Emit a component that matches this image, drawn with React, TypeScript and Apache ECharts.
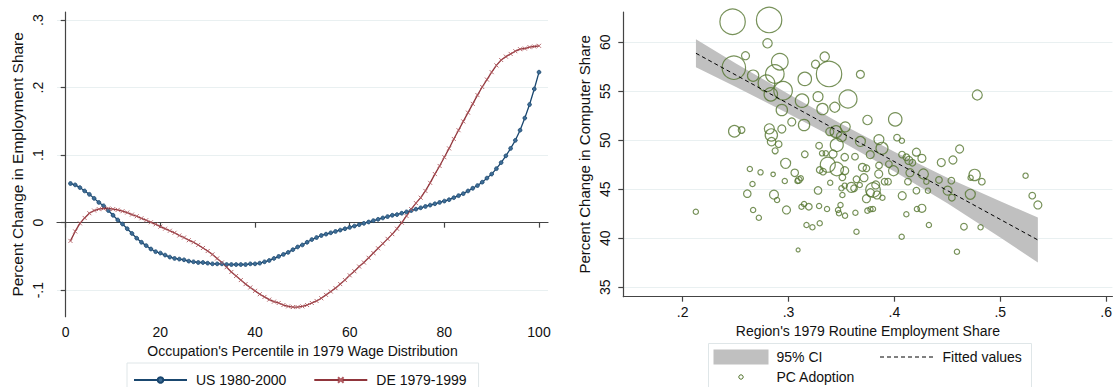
import React, { useEffect, useRef } from "react";
import * as echarts from "echarts";

// ---------- Left panel: smoothed employment-share changes by wage percentile ----------
const percentiles = Array.from({ length: 100 }, (_, i) => i + 1);

const usShare = [
  0.058, 0.056, 0.052, 0.047, 0.042, 0.036, 0.030, 0.025, 0.018, 0.011,
  0.004, -0.002, -0.009, -0.016, -0.023, -0.029, -0.034, -0.039, -0.043, -0.045,
  -0.048, -0.051, -0.053, -0.054, -0.055, -0.057, -0.058, -0.059, -0.059, -0.060,
  -0.061, -0.061, -0.061, -0.062, -0.062, -0.062, -0.062, -0.062, -0.061, -0.061,
  -0.060, -0.058, -0.056, -0.053, -0.050, -0.047, -0.044, -0.040, -0.036, -0.033,
  -0.029, -0.025, -0.022, -0.019, -0.017, -0.015, -0.013, -0.011, -0.009, -0.007,
  -0.005, -0.003, -0.001, 0.001, 0.003, 0.005, 0.007, 0.009, 0.011, 0.012,
  0.014, 0.016, 0.018, 0.020, 0.022, 0.024, 0.026, 0.028, 0.030, 0.032,
  0.034, 0.037, 0.040, 0.043, 0.047, 0.051, 0.055, 0.060, 0.066, 0.072,
  0.080, 0.089, 0.099, 0.110, 0.122, 0.137, 0.155, 0.175, 0.198, 0.223,
];

const deShare = [
  -0.027, -0.013, -0.001, 0.007, 0.014, 0.018, 0.020, 0.021, 0.021, 0.020,
  0.019, 0.017, 0.015, 0.012, 0.0095, 0.0065, 0.0036, 0.0006, -0.0024, -0.0059,
  -0.0089, -0.012, -0.015, -0.019, -0.022, -0.026, -0.029, -0.033, -0.0375, -0.042,
  -0.047, -0.053, -0.059, -0.066, -0.073, -0.079, -0.085, -0.091, -0.096, -0.101,
  -0.106, -0.110, -0.114, -0.117, -0.119, -0.122, -0.124, -0.125, -0.125, -0.124,
  -0.122, -0.119, -0.116, -0.112, -0.107, -0.102, -0.097, -0.091, -0.085, -0.078,
  -0.072, -0.065, -0.059, -0.052, -0.045, -0.038, -0.031, -0.024, -0.017, -0.009,
  0.000, 0.010, 0.020, 0.029, 0.037, 0.047, 0.059, 0.072, 0.084, 0.097,
  0.110, 0.124, 0.137, 0.150, 0.163, 0.176, 0.189, 0.201, 0.212, 0.223,
  0.233, 0.241, 0.246, 0.250, 0.254, 0.257, 0.258, 0.260, 0.261, 0.262,
];

const leftXTicks = [0, 20, 40, 60, 80, 100];
const leftYTicks = [-0.1, 0, 0.1, 0.2, 0.3];

// ---------- Right panel: regional PC adoption vs routine employment share ----------
const routineShare = [
  0.2472, 0.2817, 0.2802, 0.2594, 0.2484, 0.2666, 0.2918, 0.2871, 0.2792, 0.2949,
  0.2833, 0.3154, 0.3255, 0.3342, 0.3383, 0.3279, 0.3128, 0.3679, 0.3562, 0.4783,
  0.3437, 0.2937, 0.3321, 0.3147, 0.3031, 0.2937, 0.2489, 0.2557, 0.2819, 0.2838,
  0.2840, 0.2907, 0.2874, 0.3390, 0.3449, 0.3456, 0.3289, 0.3317, 0.3352, 0.3154,
  0.3371, 0.3456, 0.2973, 0.2635, 0.2736, 0.2855, 0.3059, 0.3116, 0.3085, 0.2965,
  0.2660, 0.3279, 0.3394, 0.2611, 0.2863,
  0.3536, 0.3500, 0.3421, 0.3531, 0.3628, 0.3679, 0.3746, 0.4008, 0.4025, 0.4071,
  0.3854, 0.3883, 0.3772, 0.3855, 0.3948, 0.3992, 0.4072, 0.4113, 0.4137, 0.4208,
  0.4260, 0.4170, 0.4147, 0.4274, 0.4443, 0.4553, 0.4616, 0.4421, 0.4538, 0.4503,
  0.4543, 0.4302, 0.4208, 0.4317, 0.4128, 0.4074, 0.3940, 0.3908, 0.3852, 0.3824,
  0.3798, 0.3836, 0.3887, 0.3736, 0.3774, 0.3713, 0.3698, 0.3736, 0.3642, 0.3673,
  0.3619, 0.3594, 0.3531, 0.3509, 0.3531, 0.3500, 0.3509, 0.3295, 0.3326, 0.3097,
  0.2892, 0.4758, 0.4720, 0.4826, 0.4717, 0.5239, 0.5302,
  0.3289, 0.3364, 0.3192, 0.3147, 0.3123, 0.3170, 0.3226, 0.3295, 0.3091, 0.2981,
  0.2666, 0.2720, 0.2125, 0.3632, 0.3642, 0.3745, 0.3774, 0.3798, 0.3491, 0.3468,
  0.3477, 0.3534, 0.4069, 0.4113, 0.4213, 0.4260, 0.4326, 0.4591, 0.5355, 0.4657,
  0.4814,
];

const computerChange = [
  62.10, 62.28, 59.90, 58.63, 57.41, 56.59, 58.02, 56.77, 55.82, 55.06,
  54.69, 56.26, 57.76, 58.53, 56.77, 54.45, 54.04, 56.73, 54.21, 54.62,
  53.37, 53.09, 53.19, 51.56, 51.87, 51.15, 50.92, 51.05, 51.17, 50.54,
  49.86, 49.60, 48.93, 50.88, 50.88, 49.52, 49.45, 48.67, 48.67, 48.57,
  47.51, 47.07, 47.65, 47.07, 46.73, 46.53, 46.68, 46.12, 45.85, 45.85,
  45.54, 44.88, 45.67, 44.55, 44.45,
  51.37, 50.37, 48.60, 48.28, 48.33, 49.88, 52.07, 52.14, 50.27, 49.95,
  50.07, 49.18, 48.54, 47.43, 47.57, 46.89, 48.54, 48.27, 47.94, 48.79,
  48.16, 47.71, 46.69, 46.56, 47.73, 47.99, 49.11, 45.95, 45.88, 44.86,
  44.14, 45.78, 44.86, 44.86, 45.78, 44.34, 45.78, 45.78, 46.56, 45.44,
  44.93, 44.42, 44.14, 44.04, 44.65, 46.18, 47.24, 47.14, 46.02, 45.44,
  45.10, 45.20, 46.90, 46.22, 45.37, 45.10, 44.42, 46.97, 46.80, 45.95,
  43.91, 46.46, 46.18, 45.78, 44.49, 46.39, 44.35,
  43.30, 42.99, 43.22, 43.50, 43.22, 41.36, 41.12, 41.53, 38.81, 42.89,
  42.89, 42.10, 42.71, 42.61, 40.67, 42.82, 42.96, 42.99, 43.40, 42.89,
  42.55, 42.31, 40.16, 42.45, 42.99, 43.06, 41.36, 38.63, 43.40, 41.18,
  41.12,
];

const pcWeight = [
  161, 161, 22, 16, 137, 32, 69, 86, 69, 86,
  45, 45, 16, 22, 161, 25, 45, 16, 81, 25,
  25, 32, 32, 32, 16, 16, 34, 11, 25, 38,
  18, 11, 9, 16, 36, 42, 11, 7, 7, 11,
  56, 45, 25, 7, 7, 5, 14, 7, 7, 7,
  7, 14, 7, 14, 20,
  25, 25, 16, 14, 11, 25, 22, 45, 11, 7,
  25, 36, 16, 11, 11, 25, 11, 11, 16, 16,
  16, 11, 16, 25, 16, 16, 16, 11, 11, 20,
  11, 7, 11, 7, 11, 16, 11, 11, 16, 16,
  53, 16, 7, 16, 16, 16, 16, 11, 11, 7,
  11, 25, 16, 11, 7, 7, 7, 11, 11, 11,
  7, 32, 7, 11, 25, 7, 11,
  7, 7, 11, 7, 7, 7, 7, 7, 4, 16,
  7, 7, 7, 7, 7, 7, 7, 7, 7, 7,
  7, 7, 7, 7, 7, 16, 7, 7, 16, 11,
  7,
];

const fitX = [0.2126, 0.5355];
const fitY = [58.88, 39.83];

const ciX = [0.2126, 0.25, 0.3, 0.35, 0.4, 0.45, 0.5, 0.5355];
const ciHigh = [60.32, 57.87, 54.72, 51.67, 48.82, 46.17, 43.77, 42.13];
const ciLow = [57.44, 55.47, 52.72, 49.87, 46.82, 43.57, 40.07, 37.53];

const rightXTicks = [0.2, 0.3, 0.4, 0.5, 0.6];
const rightYTicks = [35, 40, 45, 50, 55, 60];

const FONT = "'Liberation Sans', Arial, sans-serif";
const TXT = "#111";
const AXIS = "#444";
const GRIDC = "#e9f0f1";
const US_C = "#1a476f";
const DE_C = "#90353b";
const GREEN = "#55752f";
const CI_C = "#c0c0c0";

const stataNum = (v: number) => {
  const s = String(Math.round(v * 1000) / 1000);
  return s.replace(/^(-?)0\./, "$1.");
};

function valueAxis(opts: any) {
  const { ticks, min, max, name, gridIndex, vertical, nameGap, labelMargin, nameSize } = opts;
  return {
    type: "value",
    gridIndex,
    min,
    max,
    name,
    nameLocation: "middle",
    nameGap,
    nameTextStyle: { fontFamily: FONT, fontSize: nameSize, color: TXT },
    axisLine: { show: true, lineStyle: { color: AXIS, width: 1.2 } },
    axisTick: {
      show: true,
      length: 5,
      inside: false,
      customValues: ticks,
      lineStyle: { color: AXIS, width: 1.2 },
    },
    axisLabel: {
      show: true,
      customValues: ticks,
      formatter: stataNum,
      fontFamily: FONT,
      fontSize: 14,
      color: TXT,
      margin: labelMargin,
      rotate: vertical ? 90 : 0,
    },
    splitLine: {
      show: vertical,
      lineStyle: { color: GRIDC, width: 1 },
    },
  };
}

export default function App() {
  const ref = useRef<HTMLDivElement>(null);

  useEffect(() => {
    if (!ref.current) return;
    const chart = echarts.init(ref.current, undefined, { renderer: "svg" });

    const usData = percentiles.map((p, i) => [p, usShare[i]]);
    const deData = percentiles.map((p, i) => [p, deShare[i]]);
    const scatterData = routineShare.map((x, i) => [x, computerChange[i], pcWeight[i]]);
    const fitData = fitX.map((x, i) => [x, fitY[i]]);

    const option: any = {
      animation: false,
      backgroundColor: "#ffffff",
      textStyle: { fontFamily: FONT },
      grid: [
        { left: 57, top: 12, width: 491, height: 304.7, containLabel: false },
        { left: 623.3, top: 12, width: 489.7, height: 284.7, containLabel: false },
      ],
      xAxis: [
        valueAxis({
          ticks: leftXTicks, min: -1.84, max: 101.9, gridIndex: 0,
          name: "Occupation's Percentile in 1979 Wage Distribution",
          vertical: false, nameGap: 14, labelMargin: 8, nameSize: 14,
        }),
        valueAxis({
          ticks: rightXTicks, min: 0.144, max: 0.6059, gridIndex: 1,
          name: "Region's 1979 Routine Employment Share",
          vertical: false, nameGap: 19, labelMargin: 8, nameSize: 14,
        }),
      ],
      yAxis: [
        valueAxis({
          ticks: leftYTicks, min: -0.1393, max: 0.3121, gridIndex: 0,
          name: "Percent Change in Employment Share",
          vertical: true, nameGap: 32, labelMargin: 12, nameSize: 15.5,
        }),
        valueAxis({
          ticks: rightYTicks, min: 34.04, max: 63.09, gridIndex: 1,
          name: "Percent Change in Computer Share",
          vertical: true, nameGap: 31, labelMargin: 11, nameSize: 15,
        }),
      ],
      legend: {
        data: ["US 1980-2000", "DE 1979-1999"],
        left: 127,
        top: 363,
        orient: "horizontal",
        padding: [10, 12, 10, 6],
        itemWidth: 53,
        itemHeight: 7,
        itemGap: 27,
        borderColor: "#dfe6e8",
        borderWidth: 1,
        backgroundColor: "#fff",
        textStyle: { fontFamily: FONT, fontSize: 14, color: TXT, padding: [0, 0, 0, 4] },
      },
      series: [
        {
          name: "US 1980-2000",
          type: "line",
          xAxisIndex: 0,
          yAxisIndex: 0,
          data: usData,
          symbol: "circle",
          symbolSize: 3.8,
          showAllSymbol: true,
          lineStyle: { color: US_C, width: 1.3 },
          itemStyle: { color: "#3f6d96", borderColor: US_C, borderWidth: 0.8 },
          z: 3,
        },
        {
          name: "DE 1979-1999",
          type: "line",
          xAxisIndex: 0,
          yAxisIndex: 0,
          data: deData,
          symbol: "path://M0,0L10,10M10,0L0,10",
          symbolSize: 4,
          showAllSymbol: true,
          lineStyle: { color: DE_C, width: 1.3 },
          itemStyle: { color: "none", borderColor: "#b05a60", borderWidth: 0.9 },
          z: 3,
        },
        {
          name: "95% CI",
          type: "custom",
          xAxisIndex: 1,
          yAxisIndex: 1,
          silent: true,
          z: 1,
          data: [[ciX[0], ciLow[0]]],
          renderItem: (_params: any, api: any) => {
            const pts: number[][] = [];
            for (let i = 0; i < ciX.length; i++) pts.push(api.coord([ciX[i], ciHigh[i]]));
            for (let i = ciX.length - 1; i >= 0; i--) pts.push(api.coord([ciX[i], ciLow[i]]));
            return { type: "polygon", shape: { points: pts }, style: { fill: CI_C } };
          },
        },
        {
          name: "PC Adoption",
          type: "scatter",
          xAxisIndex: 1,
          yAxisIndex: 1,
          data: scatterData,
          symbol: "circle",
          symbolSize: (d: number[]) => 2 * Math.sqrt(d[2]),
          itemStyle: { color: "rgba(0,0,0,0)", borderColor: GREEN, borderWidth: 1.2 },
          z: 2,
        },
        {
          name: "Fitted values",
          type: "line",
          xAxisIndex: 1,
          yAxisIndex: 1,
          data: fitData,
          symbol: "none",
          lineStyle: { color: "#000", width: 1, type: [4, 3] },
          z: 4,
        },
      ],
      graphic: [
        {
          type: "rect",
          shape: { x: 708.5, y: 343.5, width: 323, height: 56 },
          style: { fill: "#fff", stroke: "#dfe6e8", lineWidth: 1 },
          z: 10,
        },
        {
          type: "rect",
          shape: { x: 713.5, y: 349.5, width: 55, height: 15 },
          style: { fill: CI_C },
          z: 11,
        },
        {
          type: "text",
          x: 776.5,
          y: 357,
          style: { text: "95% CI", font: `14px ${FONT}`, fill: TXT, verticalAlign: "middle" },
          z: 11,
        },
        {
          type: "line",
          shape: { x1: 880, y1: 357, x2: 933, y2: 357 },
          style: { stroke: "#000", lineWidth: 1, lineDash: [4, 3] },
          z: 11,
        },
        {
          type: "text",
          x: 942.5,
          y: 357,
          style: { text: "Fitted values", font: `14px ${FONT}`, fill: TXT, verticalAlign: "middle" },
          z: 11,
        },
        {
          type: "circle",
          shape: { cx: 741, cy: 377, r: 2.2 },
          style: { fill: "none", stroke: GREEN, lineWidth: 1 },
          z: 11,
        },
        {
          type: "text",
          x: 776.5,
          y: 377,
          style: { text: "PC Adoption", font: `14px ${FONT}`, fill: TXT, verticalAlign: "middle" },
          z: 11,
        },
      ],
    };

    chart.setOption(option);
    return () => chart.dispose();
  }, []);

  return (
    <div
      ref={ref}
      style={{ position: "absolute", left: 0, top: 0, width: 1115, height: 387 }}
    />
  );
}
